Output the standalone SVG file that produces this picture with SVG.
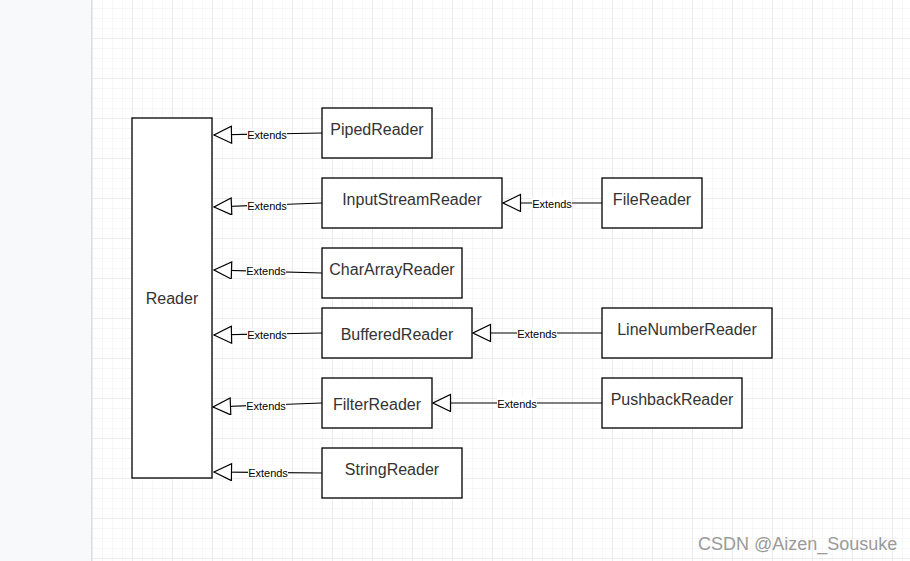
<svg xmlns="http://www.w3.org/2000/svg" width="910" height="561" viewBox="0 0 910 561">
<style>
.box{fill:#fff;stroke:#000;stroke-width:1.3}
.nt{font-family:"Liberation Sans",Arial,sans-serif;font-size:16px;fill:#333;text-anchor:middle}
.edge{fill:none;stroke:#000;stroke-width:1.2;marker-end:url(#tri)}
.lb{font-family:"Liberation Sans",Arial,sans-serif;font-size:11px;fill:#000;text-anchor:middle}
.lbg{fill:#fff}
</style>
<defs>
<pattern id="minor" patternUnits="userSpaceOnUse" x="92" y="-2" width="10" height="10">
<path d="M0,0 H10 M0,0 V10" stroke="#f0f0f0" stroke-width="1" fill="none"/>
</pattern>
<pattern id="major" patternUnits="userSpaceOnUse" x="92" y="-2" width="40" height="40">
<path d="M0,0 H40 M0,0 V40" stroke="#e2e2e2" stroke-width="1" fill="none"/>
</pattern>
<marker id="tri" markerUnits="userSpaceOnUse" markerWidth="20" markerHeight="20" viewBox="0 0 20 20" refX="18.5" refY="9" orient="auto">
<path d="M1,0.5 L18.5,9 L1,17.5 Z" fill="#fff" stroke="#000" stroke-width="1.2"/>
</marker>
</defs>
<rect x="0" y="0" width="910" height="561" fill="#fff"/>
<rect x="92" y="0" width="818" height="561" fill="url(#minor)"/>
<rect x="92" y="0" width="818" height="561" fill="url(#major)"/>
<rect x="0" y="0" width="91" height="561" fill="#f8f9fb"/>
<line x1="91.5" y1="0" x2="91.5" y2="561" stroke="#dcdcdc" stroke-width="1"/>
<line x1="92.5" y1="0" x2="92.5" y2="561" stroke="#ededed" stroke-width="1"/>

<g id="connectors">
<path class="edge" d="M322,133 L214,135"/>
<path class="edge" d="M322,203 L214,207"/>
<path class="edge" d="M602,203 L503,203"/>
<path class="edge" d="M322,273 L214,270"/>
<path class="edge" d="M322,333 L214,335"/>
<path class="edge" d="M322,403 L213,407"/>
<path class="edge" d="M602,333 L473,333"/>
<path class="edge" d="M602,403 L433,403"/>
<path class="edge" d="M322,473 L214,472"/>
<g id="labels">
<rect class="lbg" x="247" y="129" width="40" height="11"/><text class="lb" x="267" y="139">Extends</text>
<rect class="lbg" x="247" y="200" width="40" height="11"/><text class="lb" x="267" y="210">Extends</text>
<rect class="lbg" x="532" y="198" width="40" height="11"/><text class="lb" x="552" y="208">Extends</text>
<rect class="lbg" x="246" y="266" width="40" height="11"/><text class="lb" x="266" y="275">Extends</text>
<rect class="lbg" x="247" y="329" width="40" height="11"/><text class="lb" x="267" y="339">Extends</text>
<rect class="lbg" x="246" y="400" width="40" height="11"/><text class="lb" x="266" y="410">Extends</text>
<rect class="lbg" x="517" y="328" width="40" height="11"/><text class="lb" x="537" y="338">Extends</text>
<rect class="lbg" x="497" y="398" width="40" height="11"/><text class="lb" x="517" y="408">Extends</text>
<rect class="lbg" x="248" y="467" width="40" height="11"/><text class="lb" x="268" y="477">Extends</text>
</g>
</g>

<g id="Reader"><rect class="box" x="132" y="118" width="80" height="360"/><text class="nt" x="172" y="304">Reader</text></g>
<g id="PipedReader"><rect class="box" x="322" y="108" width="110" height="50"/><text class="nt" x="377" y="135">PipedReader</text></g>
<g id="InputStreamReader"><rect class="box" x="322" y="178" width="180" height="50"/><text class="nt" x="412" y="205">InputStreamReader</text></g>
<g id="FileReader"><rect class="box" x="602" y="178" width="100" height="50"/><text class="nt" x="652" y="205">FileReader</text></g>
<g id="CharArrayReader"><rect class="box" x="322" y="248" width="140" height="50"/><text class="nt" x="392" y="275">CharArrayReader</text></g>
<g id="BufferedReader"><rect class="box" x="322" y="308" width="150" height="50"/><text class="nt" x="397" y="340">BufferedReader</text></g>
<g id="LineNumberReader"><rect class="box" x="602" y="308" width="170" height="50"/><text class="nt" x="687" y="335">LineNumberReader</text></g>
<g id="FilterReader"><rect class="box" x="322" y="378" width="110" height="50"/><text class="nt" x="377" y="410">FilterReader</text></g>
<g id="PushbackReader"><rect class="box" x="602" y="378" width="140" height="50"/><text class="nt" x="672" y="405">PushbackReader</text></g>
<g id="StringReader"><rect class="box" x="322" y="448" width="140" height="50"/><text class="nt" x="392" y="475">StringReader</text></g>

<text x="698" y="550" font-family="'Liberation Sans',Arial,sans-serif" font-size="18" fill="#9a9a9a">CSDN @Aizen_Sousuke</text>
</svg>
